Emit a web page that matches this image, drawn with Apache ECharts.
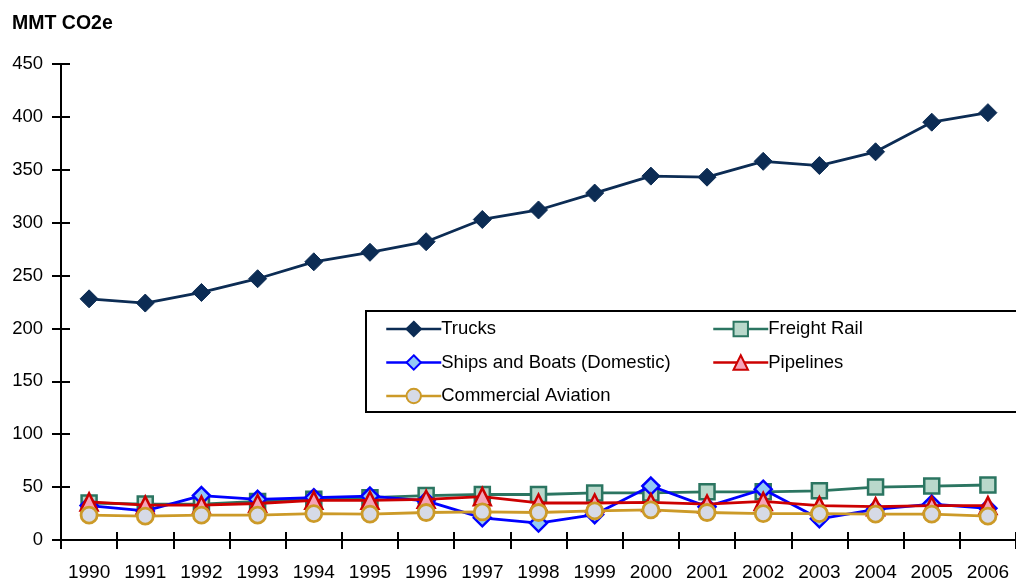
<!DOCTYPE html>
<html>
<head>
<meta charset="utf-8">
<script src="https://cdn.jsdelivr.net/npm/echarts@6/dist/echarts.min.js"></script>
<style>
html,body{margin:0;padding:0;background:#fff;}
#chart{width:1016px;height:584px;}
</style>
</head>
<body>
<div id="chart"></div>
<script>
var years = ['1990','1991','1992','1993','1994','1995','1996','1997','1998','1999','2000','2001','2002','2003','2004','2005','2006'];
var trucks = [228, 224, 234, 247, 263, 272, 282, 303, 312, 328, 344, 343, 358, 354, 367, 395, 404];
var freightRail = [35, 34, 34, 36.5, 38.5, 40, 42, 43, 43, 44.5, 44.5, 45.5, 45.5, 46.5, 50, 51, 52];
var ships = [32.5, 27.5, 42, 38.5, 40, 41.5, 37, 21, 16, 24, 51, 31.5, 48, 20, 29, 34, 30];
var pipelines = [36, 33, 33, 34.5, 37.5, 37.5, 38.5, 41, 35, 35, 35.5, 34, 36.5, 32.5, 31.5, 32.5, 32.5];
var aviation = [23.5, 22.5, 23.5, 23.5, 25, 24.5, 26, 26.5, 26, 27.5, 28.5, 26, 25, 25, 24.5, 24.5, 22.5];
var yTicks = [0, 50, 100, 150, 200, 250, 300, 350, 400, 450];
var unitLabel = 'MMT CO2e';

var FONT = "'Liberation Sans',Arial,sans-serif";
var chart = echarts.init(document.getElementById('chart'), null, {renderer:'canvas'});

function mkSeries(name, data, color, symbol, size, fill, bw, z){
  return {
    name: name, type: 'line', data: data, xAxisIndex: 0, yAxisIndex: 0,
    symbol: symbol, symbolSize: size, showAllSymbol: true, z: z,
    lineStyle: {color: color, width: 2.8},
    itemStyle: {color: fill, borderColor: color, borderWidth: bw},
    emphasis: {disabled: true},
    animation: false
  };
}

var yMin = yTicks[0], yMax = yTicks[yTicks.length-1], yInt = yTicks[1]-yTicks[0];

var legendCommon = {
  orient: 'vertical', top: 314, z: 60,
  itemWidth: 55, itemHeight: 18, itemGap: 13.5,
  textStyle: {fontFamily: FONT, fontSize: 18.5, color: '#000', lineHeight: 20, padding: [0,0,0,-5]},
  lineStyle: {width: 2.5},
  selectedMode: false
};

chart.setOption({
  animation: false,
  backgroundColor: '#fff',
  textStyle: {fontFamily: FONT},
  title: {
    text: unitLabel, left: 7, top: 9,
    textStyle: {fontFamily: FONT, fontSize: 19.5, fontWeight: 'bold', color: '#000'}
  },
  grid: {left: 61, top: 64, bottom: 44, right: -6.5, containLabel: false},
  xAxis: [{
    type: 'category', data: years, boundaryGap: true, position: 'bottom',
    axisLine: {show: true, onZero: false, lineStyle: {color: '#000', width: 2}},
    axisTick: {show: true, length: 9, lineStyle: {color: '#000', width: 2}},
    axisLabel: {color: '#000', fontSize: 19, fontFamily: FONT, margin: 23, interval: 0},
    splitLine: {show: false}
  },{
    type: 'category', data: years, boundaryGap: true, position: 'bottom',
    axisLine: {show: false, onZero: false},
    axisTick: {show: true, inside: true, length: 8, lineStyle: {color: '#000', width: 2}},
    axisLabel: {show: false},
    splitLine: {show: false}
  }],
  yAxis: [{
    type: 'value', min: yMin, max: yMax, interval: yInt, position: 'left',
    axisLine: {show: true, lineStyle: {color: '#000', width: 2}},
    axisTick: {show: true, length: 9, lineStyle: {color: '#000', width: 2}},
    axisLabel: {color: '#000', fontSize: 18.5, fontFamily: FONT, margin: 18},
    splitLine: {show: false}
  },{
    type: 'value', min: yMin, max: yMax, interval: yInt, position: 'left',
    axisLine: {show: false},
    axisTick: {show: true, inside: true, length: 9, lineStyle: {color: '#000', width: 2}},
    axisLabel: {show: false},
    splitLine: {show: false}
  }],
  graphic: [{
    type: 'rect', z: 50,
    shape: {x: 366, y: 311, width: 700, height: 101},
    style: {fill: '#fff', stroke: '#000', lineWidth: 2}
  }],
  legend: [
    Object.assign({}, legendCommon, {left: 380, data: ['Trucks', 'Ships and Boats (Domestic)', 'Commercial Aviation']}),
    Object.assign({}, legendCommon, {left: 707, data: ['Freight Rail', 'Pipelines']})
  ],
  series: [
    mkSeries('Trucks', trucks, '#0c2c54', 'diamond', 18, '#0c2c54', 1, 10),
    mkSeries('Freight Rail', freightRail, '#2b7561', 'rect', 15, '#b9d8cb', 2.5, 11),
    mkSeries('Ships and Boats (Domestic)', ships, '#0000ff', 'diamond', 17, '#93c9f5', 2.5, 12),
    mkSeries('Pipelines', pipelines, '#cc0000', 'triangle', 17, '#f4a3b8', 2.5, 13),
    mkSeries('Commercial Aviation', aviation, '#cc9a28', 'circle', 16, '#d6dae6', 2.8, 14)
  ]
});
</script>
</body>
</html>
